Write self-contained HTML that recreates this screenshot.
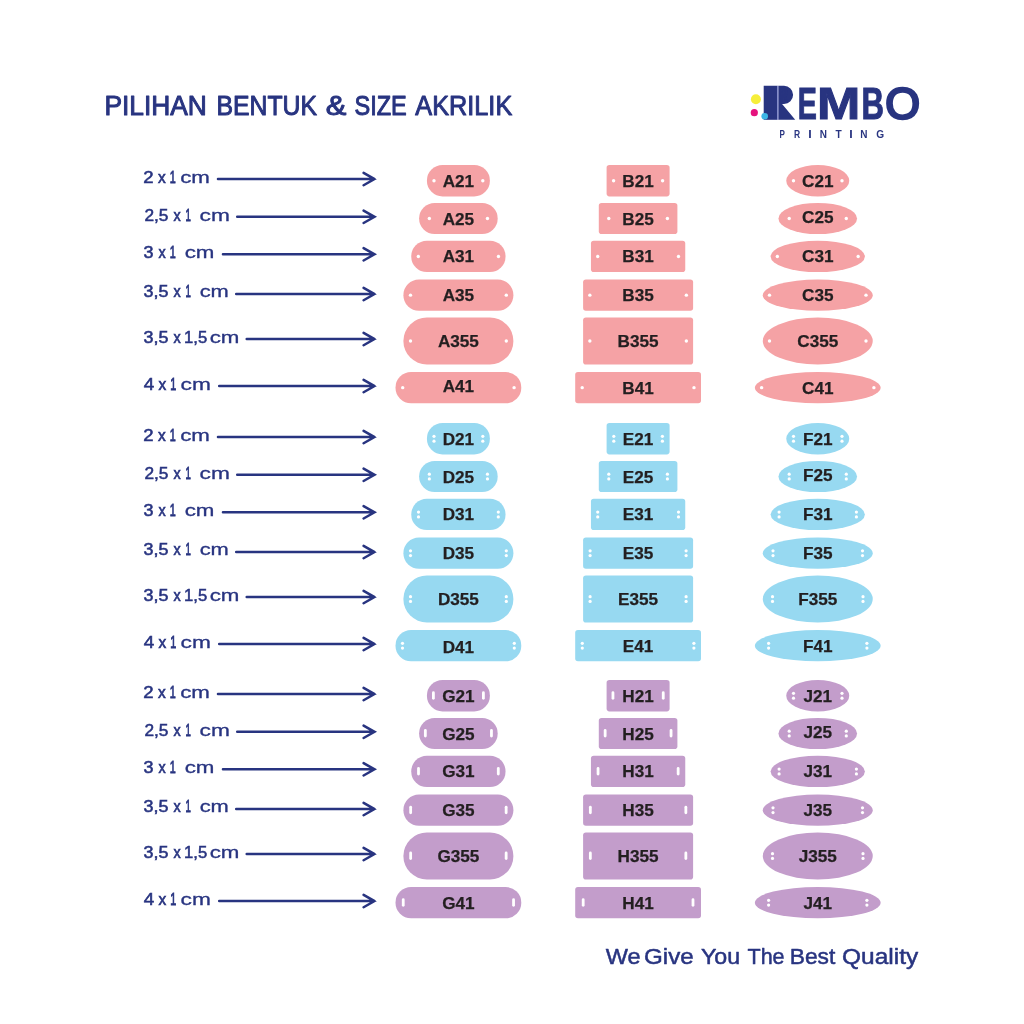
<!DOCTYPE html>
<html lang="id"><head><meta charset="utf-8"><title>Pilihan Bentuk &amp; Size Akrilik - Rembo Printing</title>
<style>
html,body{margin:0;padding:0;background:#fff;}
body{width:1024px;height:1024px;overflow:hidden;font-family:"Liberation Sans",sans-serif;}
svg{display:block;will-change:transform;}
svg text{font-family:"Liberation Sans",sans-serif;}
.code{font-weight:bold;font-size:17.15px;fill:#231f20;stroke:#231f20;stroke-width:0.25px;text-anchor:middle;}
.lbl{fill:#283480;stroke:#283480;stroke-width:0.55px;}
.arr{stroke:#283480;stroke-width:2.5;fill:none;stroke-linecap:round;stroke-linejoin:miter;}
.hole{fill:#fff;}
</style></head><body>
<svg width="1024" height="1024" viewBox="0 0 1024 1024">
<rect width="1024" height="1024" fill="#fff"/>
<g fill="#283480">
<circle cx="755.9" cy="99.25" r="5" fill="#f6ee3a"/>
<circle cx="754.3" cy="112.7" r="3.6" fill="#e5127d"/>
<rect x="763.7" y="85.75" width="13.6" height="34.05"/>
<rect x="777.1" y="85.75" width="1.5" height="34.05" fill="#7f88c9"/>
<path d="M778.5 85.75H784A9.1 9.1 0 0 1 784 103.95H782.1L795.2 119.8H778.5Z"/>
<text font-size="45.2" font-weight="bold" stroke="#283480" stroke-width="1.0"><tspan y="102" x="780.08" font-size="20.3" textLength="7.96" lengthAdjust="spacingAndGlyphs">R</tspan><tspan y="119.25" x="797.64" textLength="19.13" lengthAdjust="spacingAndGlyphs">E</tspan><tspan x="817.12" textLength="43.32" lengthAdjust="spacingAndGlyphs">M</tspan><tspan x="861.48" textLength="22.49" lengthAdjust="spacingAndGlyphs">B</tspan><tspan x="885.34" y="119.2" font-size="45.0" font-weight="normal" stroke-width="2.5" textLength="34.80" lengthAdjust="spacingAndGlyphs">O</tspan></text>
<circle cx="764.7" cy="116.2" r="3.3" fill="#3db5e6"/>
<text y="137.5" font-size="10.9" font-weight="bold"><tspan x="779.48" textLength="5.38" lengthAdjust="spacingAndGlyphs">P</tspan><tspan x="794.05" textLength="6.14" lengthAdjust="spacingAndGlyphs">R</tspan><tspan x="808.19" textLength="3.45" lengthAdjust="spacingAndGlyphs">I</tspan><tspan x="819.75" textLength="7.22" lengthAdjust="spacingAndGlyphs">N</tspan><tspan x="835.50" textLength="6.21" lengthAdjust="spacingAndGlyphs">T</tspan><tspan x="849.19" textLength="3.45" lengthAdjust="spacingAndGlyphs">I</tspan><tspan x="860.15" textLength="7.22" lengthAdjust="spacingAndGlyphs">N</tspan><tspan x="876.34" textLength="7.89" lengthAdjust="spacingAndGlyphs">G</tspan></text>
</g>

<text y="115.1" font-size="27.6" fill="#283480" stroke="#283480" stroke-width="1.0" stroke-linejoin="round"><tspan x="104.39" textLength="102.47" lengthAdjust="spacingAndGlyphs">PILIHAN</tspan> <tspan x="216.52" textLength="100.51" lengthAdjust="spacingAndGlyphs">BENTUK</tspan> <tspan x="325.67" textLength="20.61" lengthAdjust="spacingAndGlyphs">&amp;</tspan> <tspan x="354.44" textLength="52.31" lengthAdjust="spacingAndGlyphs">SIZE</tspan> <tspan x="415.37" textLength="96.88" lengthAdjust="spacingAndGlyphs">AKRILIK</tspan></text>

<g fill="#f5a2a5">
<text class="lbl" y="183.00"><tspan stroke-width="0.55" x="143.35" font-size="17.0" textLength="10.33" lengthAdjust="spacingAndGlyphs">2</tspan> <tspan stroke-width="0.65" x="158.09" font-size="16.4" textLength="7.74" lengthAdjust="spacingAndGlyphs">x</tspan> <tspan stroke-width="0.85" x="169.81" font-size="17.0" textLength="6.01" lengthAdjust="spacingAndGlyphs">1</tspan> <tspan stroke-width="0.3" x="180.15" font-size="16.4" textLength="29.72" lengthAdjust="spacingAndGlyphs">cm</tspan></text>
<path class="arr" d="M217.95 179.05H374.5M363.6 172.85L374.5 179.05L363.6 185.25"/>
<text class="lbl" y="220.50"><tspan stroke-width="0.55" x="144.41" font-size="17.0" textLength="24.01" lengthAdjust="spacingAndGlyphs">2,5</tspan> <tspan stroke-width="0.65" x="173.61" font-size="16.4" textLength="7.21" lengthAdjust="spacingAndGlyphs">x</tspan> <tspan stroke-width="0.85" x="185.40" font-size="17.0" textLength="5.37" lengthAdjust="spacingAndGlyphs">1</tspan> <tspan stroke-width="0.3" x="199.63" font-size="16.4" textLength="30.27" lengthAdjust="spacingAndGlyphs">cm</tspan></text>
<path class="arr" d="M237.20 216.80H374.5M363.6 210.60L374.5 216.80L363.6 223.00"/>
<text class="lbl" y="258.25"><tspan stroke-width="0.55" x="143.56" font-size="17.0" textLength="10.00" lengthAdjust="spacingAndGlyphs">3</tspan> <tspan stroke-width="0.65" x="158.61" font-size="16.4" textLength="7.21" lengthAdjust="spacingAndGlyphs">x</tspan> <tspan stroke-width="0.85" x="169.81" font-size="17.0" textLength="6.01" lengthAdjust="spacingAndGlyphs">1</tspan> <tspan stroke-width="0.3" x="184.65" font-size="16.4" textLength="29.72" lengthAdjust="spacingAndGlyphs">cm</tspan></text>
<path class="arr" d="M222.95 254.30H374.5M363.6 248.10L374.5 254.30L363.6 260.50"/>
<text class="lbl" y="297.00"><tspan stroke-width="0.55" x="143.56" font-size="17.0" textLength="24.88" lengthAdjust="spacingAndGlyphs">3,5</tspan> <tspan stroke-width="0.65" x="173.61" font-size="16.4" textLength="7.21" lengthAdjust="spacingAndGlyphs">x</tspan> <tspan stroke-width="0.85" x="185.40" font-size="17.0" textLength="5.37" lengthAdjust="spacingAndGlyphs">1</tspan> <tspan stroke-width="0.3" x="199.67" font-size="16.4" textLength="29.17" lengthAdjust="spacingAndGlyphs">cm</tspan></text>
<path class="arr" d="M236.20 294.05H374.5M363.6 287.85L374.5 294.05L363.6 300.25"/>
<text class="lbl" y="343.00"><tspan stroke-width="0.55" x="143.56" font-size="17.0" textLength="24.88" lengthAdjust="spacingAndGlyphs">3,5</tspan> <tspan stroke-width="0.65" x="173.61" font-size="16.4" textLength="7.21" lengthAdjust="spacingAndGlyphs">x</tspan> <tspan stroke-width="0.55" x="184.03" font-size="17.0" textLength="23.11" lengthAdjust="spacingAndGlyphs">1,5</tspan> <tspan stroke-width="0.3" x="209.65" font-size="16.4" textLength="29.72" lengthAdjust="spacingAndGlyphs">cm</tspan></text>
<path class="arr" d="M246.70 339.05H374.5M363.6 332.85L374.5 339.05L363.6 345.25"/>
<text class="lbl" y="389.50"><tspan stroke-width="0.55" x="143.80" font-size="17.0" textLength="10.51" lengthAdjust="spacingAndGlyphs">4</tspan> <tspan stroke-width="0.65" x="158.59" font-size="16.4" textLength="7.74" lengthAdjust="spacingAndGlyphs">x</tspan> <tspan stroke-width="0.85" x="170.31" font-size="17.0" textLength="6.01" lengthAdjust="spacingAndGlyphs">1</tspan> <tspan stroke-width="0.3" x="180.63" font-size="16.4" textLength="30.27" lengthAdjust="spacingAndGlyphs">cm</tspan></text>
<path class="arr" d="M219.20 386.05H374.5M363.6 379.85L374.5 386.05L363.6 392.25"/>
<rect x="426.90" y="165.00" width="63.00" height="31.40" rx="15.70"/>
<circle class="hole" cx="434.00" cy="180.70" r="1.7"/><circle class="hole" cx="482.80" cy="180.70" r="1.7"/>
<text class="code" x="458.40" y="187.00">A21</text>
<rect x="419.10" y="202.90" width="78.60" height="31.20" rx="15.60"/>
<circle class="hole" cx="429.35" cy="218.50" r="1.7"/><circle class="hole" cx="487.45" cy="218.50" r="1.7"/>
<text class="code" x="458.40" y="224.80">A25</text>
<rect x="411.25" y="240.75" width="94.30" height="31.35" rx="15.68"/>
<circle class="hole" cx="418.35" cy="256.43" r="1.7"/><circle class="hole" cx="498.45" cy="256.43" r="1.7"/>
<text class="code" x="458.40" y="261.93">A31</text>
<rect x="403.40" y="279.50" width="110.00" height="31.30" rx="15.65"/>
<circle class="hole" cx="410.50" cy="295.15" r="1.7"/><circle class="hole" cx="506.30" cy="295.15" r="1.7"/>
<text class="code" x="458.40" y="301.45">A35</text>
<rect x="403.40" y="317.50" width="110.00" height="47.00" rx="23.50"/>
<circle class="hole" cx="410.50" cy="341.00" r="1.7"/><circle class="hole" cx="506.30" cy="341.00" r="1.7"/>
<text class="code" x="458.40" y="347.30">A355</text>
<rect x="395.50" y="372.00" width="125.80" height="31.30" rx="15.65"/>
<circle class="hole" cx="402.70" cy="387.65" r="1.7"/><circle class="hole" cx="514.10" cy="387.65" r="1.7"/>
<text class="code" x="458.40" y="392.05">A41</text>
<rect x="606.60" y="165.00" width="63.00" height="31.40" rx="2.8"/>
<circle class="hole" cx="613.60" cy="180.70" r="1.7"/><circle class="hole" cx="662.60" cy="180.70" r="1.7"/>
<text class="code" x="638.10" y="187.00">B21</text>
<rect x="598.80" y="202.90" width="78.60" height="31.20" rx="2.8"/>
<circle class="hole" cx="608.80" cy="218.50" r="1.7"/><circle class="hole" cx="667.40" cy="218.50" r="1.7"/>
<text class="code" x="638.10" y="224.80">B25</text>
<rect x="590.95" y="240.75" width="94.30" height="31.35" rx="2.8"/>
<circle class="hole" cx="597.70" cy="256.43" r="1.7"/><circle class="hole" cx="678.50" cy="256.43" r="1.7"/>
<text class="code" x="638.10" y="261.93">B31</text>
<rect x="583.10" y="279.50" width="110.00" height="31.30" rx="2.8"/>
<circle class="hole" cx="589.85" cy="295.15" r="1.7"/><circle class="hole" cx="686.35" cy="295.15" r="1.7"/>
<text class="code" x="638.10" y="301.45">B35</text>
<rect x="583.10" y="317.50" width="110.00" height="47.00" rx="2.8"/>
<circle class="hole" cx="589.85" cy="341.00" r="1.7"/><circle class="hole" cx="686.35" cy="341.00" r="1.7"/>
<text class="code" x="638.10" y="347.30">B355</text>
<rect x="575.20" y="372.00" width="125.80" height="31.30" rx="2.8"/>
<circle class="hole" cx="582.20" cy="387.65" r="1.7"/><circle class="hole" cx="694.00" cy="387.65" r="1.7"/>
<text class="code" x="638.10" y="393.95">B41</text>
<ellipse cx="817.75" cy="180.70" rx="31.50" ry="15.70"/>
<circle class="hole" cx="793.50" cy="180.70" r="1.7"/><circle class="hole" cx="842.00" cy="180.70" r="1.7"/>
<text class="code" x="817.75" y="187.00">C21</text>
<ellipse cx="817.75" cy="218.50" rx="39.30" ry="15.60"/>
<circle class="hole" cx="789.20" cy="218.50" r="1.7"/><circle class="hole" cx="846.30" cy="218.50" r="1.7"/>
<text class="code" x="817.75" y="222.80">C25</text>
<ellipse cx="817.75" cy="256.43" rx="47.15" ry="15.68"/>
<circle class="hole" cx="777.35" cy="256.43" r="1.7"/><circle class="hole" cx="858.15" cy="256.43" r="1.7"/>
<text class="code" x="817.75" y="261.93">C31</text>
<ellipse cx="817.75" cy="295.15" rx="55.00" ry="15.65"/>
<circle class="hole" cx="769.50" cy="295.15" r="1.7"/><circle class="hole" cx="866.00" cy="295.15" r="1.7"/>
<text class="code" x="817.75" y="301.45">C35</text>
<ellipse cx="817.75" cy="341.00" rx="55.00" ry="23.50"/>
<circle class="hole" cx="769.50" cy="341.00" r="1.7"/><circle class="hole" cx="866.00" cy="341.00" r="1.7"/>
<text class="code" x="817.75" y="347.30">C355</text>
<ellipse cx="817.75" cy="387.65" rx="62.90" ry="15.65"/>
<circle class="hole" cx="761.60" cy="387.65" r="1.7"/><circle class="hole" cx="873.90" cy="387.65" r="1.7"/>
<text class="code" x="817.75" y="393.95">C41</text>
</g>
<g fill="#97d9f1">
<text class="lbl" y="441.00"><tspan stroke-width="0.55" x="143.35" font-size="17.0" textLength="10.33" lengthAdjust="spacingAndGlyphs">2</tspan> <tspan stroke-width="0.65" x="158.09" font-size="16.4" textLength="7.74" lengthAdjust="spacingAndGlyphs">x</tspan> <tspan stroke-width="0.85" x="169.81" font-size="17.0" textLength="6.01" lengthAdjust="spacingAndGlyphs">1</tspan> <tspan stroke-width="0.3" x="180.15" font-size="16.4" textLength="29.72" lengthAdjust="spacingAndGlyphs">cm</tspan></text>
<path class="arr" d="M217.95 437.05H374.5M363.6 430.85L374.5 437.05L363.6 443.25"/>
<text class="lbl" y="478.50"><tspan stroke-width="0.55" x="144.41" font-size="17.0" textLength="24.01" lengthAdjust="spacingAndGlyphs">2,5</tspan> <tspan stroke-width="0.65" x="173.61" font-size="16.4" textLength="7.21" lengthAdjust="spacingAndGlyphs">x</tspan> <tspan stroke-width="0.85" x="185.40" font-size="17.0" textLength="5.37" lengthAdjust="spacingAndGlyphs">1</tspan> <tspan stroke-width="0.3" x="199.63" font-size="16.4" textLength="30.27" lengthAdjust="spacingAndGlyphs">cm</tspan></text>
<path class="arr" d="M237.20 474.80H374.5M363.6 468.60L374.5 474.80L363.6 481.00"/>
<text class="lbl" y="516.25"><tspan stroke-width="0.55" x="143.56" font-size="17.0" textLength="10.00" lengthAdjust="spacingAndGlyphs">3</tspan> <tspan stroke-width="0.65" x="158.61" font-size="16.4" textLength="7.21" lengthAdjust="spacingAndGlyphs">x</tspan> <tspan stroke-width="0.85" x="169.81" font-size="17.0" textLength="6.01" lengthAdjust="spacingAndGlyphs">1</tspan> <tspan stroke-width="0.3" x="184.65" font-size="16.4" textLength="29.72" lengthAdjust="spacingAndGlyphs">cm</tspan></text>
<path class="arr" d="M222.95 512.30H374.5M363.6 506.10L374.5 512.30L363.6 518.50"/>
<text class="lbl" y="555.00"><tspan stroke-width="0.55" x="143.56" font-size="17.0" textLength="24.88" lengthAdjust="spacingAndGlyphs">3,5</tspan> <tspan stroke-width="0.65" x="173.61" font-size="16.4" textLength="7.21" lengthAdjust="spacingAndGlyphs">x</tspan> <tspan stroke-width="0.85" x="185.40" font-size="17.0" textLength="5.37" lengthAdjust="spacingAndGlyphs">1</tspan> <tspan stroke-width="0.3" x="199.67" font-size="16.4" textLength="29.17" lengthAdjust="spacingAndGlyphs">cm</tspan></text>
<path class="arr" d="M236.20 552.05H374.5M363.6 545.85L374.5 552.05L363.6 558.25"/>
<text class="lbl" y="601.00"><tspan stroke-width="0.55" x="143.56" font-size="17.0" textLength="24.88" lengthAdjust="spacingAndGlyphs">3,5</tspan> <tspan stroke-width="0.65" x="173.61" font-size="16.4" textLength="7.21" lengthAdjust="spacingAndGlyphs">x</tspan> <tspan stroke-width="0.55" x="184.03" font-size="17.0" textLength="23.11" lengthAdjust="spacingAndGlyphs">1,5</tspan> <tspan stroke-width="0.3" x="209.65" font-size="16.4" textLength="29.72" lengthAdjust="spacingAndGlyphs">cm</tspan></text>
<path class="arr" d="M246.70 597.05H374.5M363.6 590.85L374.5 597.05L363.6 603.25"/>
<text class="lbl" y="647.50"><tspan stroke-width="0.55" x="143.80" font-size="17.0" textLength="10.51" lengthAdjust="spacingAndGlyphs">4</tspan> <tspan stroke-width="0.65" x="158.59" font-size="16.4" textLength="7.74" lengthAdjust="spacingAndGlyphs">x</tspan> <tspan stroke-width="0.85" x="170.31" font-size="17.0" textLength="6.01" lengthAdjust="spacingAndGlyphs">1</tspan> <tspan stroke-width="0.3" x="180.63" font-size="16.4" textLength="30.27" lengthAdjust="spacingAndGlyphs">cm</tspan></text>
<path class="arr" d="M219.20 644.05H374.5M363.6 637.85L374.5 644.05L363.6 650.25"/>
<rect x="426.90" y="423.00" width="63.00" height="31.40" rx="15.70"/>
<circle class="hole" cx="434.00" cy="436.35" r="1.6"/><circle class="hole" cx="434.00" cy="441.15" r="1.6"/><circle class="hole" cx="482.80" cy="436.35" r="1.6"/><circle class="hole" cx="482.80" cy="441.15" r="1.6"/>
<text class="code" x="458.40" y="445.00">D21</text>
<rect x="419.10" y="460.90" width="78.60" height="31.20" rx="15.60"/>
<circle class="hole" cx="429.35" cy="474.15" r="1.6"/><circle class="hole" cx="429.35" cy="478.95" r="1.6"/><circle class="hole" cx="487.45" cy="474.15" r="1.6"/><circle class="hole" cx="487.45" cy="478.95" r="1.6"/>
<text class="code" x="458.40" y="482.80">D25</text>
<rect x="411.25" y="498.75" width="94.30" height="31.35" rx="15.68"/>
<circle class="hole" cx="418.50" cy="512.07" r="1.6"/><circle class="hole" cx="418.50" cy="516.88" r="1.6"/><circle class="hole" cx="498.30" cy="512.07" r="1.6"/><circle class="hole" cx="498.30" cy="516.88" r="1.6"/>
<text class="code" x="458.40" y="519.92">D31</text>
<rect x="403.40" y="537.50" width="110.00" height="31.30" rx="15.65"/>
<circle class="hole" cx="410.50" cy="550.80" r="1.6"/><circle class="hole" cx="410.50" cy="555.60" r="1.6"/><circle class="hole" cx="506.30" cy="550.80" r="1.6"/><circle class="hole" cx="506.30" cy="555.60" r="1.6"/>
<text class="code" x="458.40" y="559.45">D35</text>
<rect x="403.40" y="575.50" width="110.00" height="47.00" rx="23.50"/>
<circle class="hole" cx="410.50" cy="596.65" r="1.6"/><circle class="hole" cx="410.50" cy="601.45" r="1.6"/><circle class="hole" cx="506.30" cy="596.65" r="1.6"/><circle class="hole" cx="506.30" cy="601.45" r="1.6"/>
<text class="code" x="458.40" y="605.30">D355</text>
<rect x="395.50" y="630.00" width="125.80" height="31.30" rx="15.65"/>
<circle class="hole" cx="402.50" cy="643.30" r="1.6"/><circle class="hole" cx="402.50" cy="648.10" r="1.6"/><circle class="hole" cx="514.30" cy="643.30" r="1.6"/><circle class="hole" cx="514.30" cy="648.10" r="1.6"/>
<text class="code" x="458.40" y="652.55">D41</text>
<rect x="606.60" y="423.00" width="63.00" height="31.40" rx="2.8"/>
<circle class="hole" cx="613.80" cy="436.35" r="1.6"/><circle class="hole" cx="613.80" cy="441.15" r="1.6"/><circle class="hole" cx="662.40" cy="436.35" r="1.6"/><circle class="hole" cx="662.40" cy="441.15" r="1.6"/>
<text class="code" x="638.10" y="445.00">E21</text>
<rect x="598.80" y="460.90" width="78.60" height="31.20" rx="2.8"/>
<circle class="hole" cx="608.80" cy="474.15" r="1.6"/><circle class="hole" cx="608.80" cy="478.95" r="1.6"/><circle class="hole" cx="667.40" cy="474.15" r="1.6"/><circle class="hole" cx="667.40" cy="478.95" r="1.6"/>
<text class="code" x="638.10" y="482.80">E25</text>
<rect x="590.95" y="498.75" width="94.30" height="31.35" rx="2.8"/>
<circle class="hole" cx="597.70" cy="512.07" r="1.6"/><circle class="hole" cx="597.70" cy="516.88" r="1.6"/><circle class="hole" cx="678.50" cy="512.07" r="1.6"/><circle class="hole" cx="678.50" cy="516.88" r="1.6"/>
<text class="code" x="638.10" y="519.92">E31</text>
<rect x="583.10" y="537.50" width="110.00" height="31.30" rx="2.8"/>
<circle class="hole" cx="590.10" cy="550.80" r="1.6"/><circle class="hole" cx="590.10" cy="555.60" r="1.6"/><circle class="hole" cx="686.10" cy="550.80" r="1.6"/><circle class="hole" cx="686.10" cy="555.60" r="1.6"/>
<text class="code" x="638.10" y="559.45">E35</text>
<rect x="583.10" y="575.50" width="110.00" height="47.00" rx="2.8"/>
<circle class="hole" cx="590.10" cy="596.65" r="1.6"/><circle class="hole" cx="590.10" cy="601.45" r="1.6"/><circle class="hole" cx="686.10" cy="596.65" r="1.6"/><circle class="hole" cx="686.10" cy="601.45" r="1.6"/>
<text class="code" x="638.10" y="605.30">E355</text>
<rect x="575.20" y="630.00" width="125.80" height="31.30" rx="2.8"/>
<circle class="hole" cx="582.30" cy="643.30" r="1.6"/><circle class="hole" cx="582.30" cy="648.10" r="1.6"/><circle class="hole" cx="693.90" cy="643.30" r="1.6"/><circle class="hole" cx="693.90" cy="648.10" r="1.6"/>
<text class="code" x="638.10" y="651.95">E41</text>
<ellipse cx="817.75" cy="438.70" rx="31.50" ry="15.70"/>
<circle class="hole" cx="793.50" cy="436.35" r="1.6"/><circle class="hole" cx="793.50" cy="441.15" r="1.6"/><circle class="hole" cx="842.00" cy="436.35" r="1.6"/><circle class="hole" cx="842.00" cy="441.15" r="1.6"/>
<text class="code" x="817.75" y="445.00">F21</text>
<ellipse cx="817.75" cy="476.50" rx="39.30" ry="15.60"/>
<circle class="hole" cx="789.20" cy="474.15" r="1.6"/><circle class="hole" cx="789.20" cy="478.95" r="1.6"/><circle class="hole" cx="846.30" cy="474.15" r="1.6"/><circle class="hole" cx="846.30" cy="478.95" r="1.6"/>
<text class="code" x="817.75" y="480.80">F25</text>
<ellipse cx="817.75" cy="514.42" rx="47.15" ry="15.68"/>
<circle class="hole" cx="779.10" cy="512.07" r="1.6"/><circle class="hole" cx="779.10" cy="516.88" r="1.6"/><circle class="hole" cx="856.40" cy="512.07" r="1.6"/><circle class="hole" cx="856.40" cy="516.88" r="1.6"/>
<text class="code" x="817.75" y="519.92">F31</text>
<ellipse cx="817.75" cy="553.15" rx="55.00" ry="15.65"/>
<circle class="hole" cx="773.00" cy="550.80" r="1.6"/><circle class="hole" cx="773.00" cy="555.60" r="1.6"/><circle class="hole" cx="862.50" cy="550.80" r="1.6"/><circle class="hole" cx="862.50" cy="555.60" r="1.6"/>
<text class="code" x="817.75" y="559.45">F35</text>
<ellipse cx="817.75" cy="599.00" rx="55.00" ry="23.50"/>
<circle class="hole" cx="772.50" cy="596.65" r="1.6"/><circle class="hole" cx="772.50" cy="601.45" r="1.6"/><circle class="hole" cx="863.00" cy="596.65" r="1.6"/><circle class="hole" cx="863.00" cy="601.45" r="1.6"/>
<text class="code" x="817.75" y="605.30">F355</text>
<ellipse cx="817.75" cy="645.65" rx="62.90" ry="15.65"/>
<circle class="hole" cx="768.60" cy="643.30" r="1.6"/><circle class="hole" cx="768.60" cy="648.10" r="1.6"/><circle class="hole" cx="866.90" cy="643.30" r="1.6"/><circle class="hole" cx="866.90" cy="648.10" r="1.6"/>
<text class="code" x="817.75" y="651.95">F41</text>
</g>
<g fill="#c39dcb">
<text class="lbl" y="698.00"><tspan stroke-width="0.55" x="143.35" font-size="17.0" textLength="10.33" lengthAdjust="spacingAndGlyphs">2</tspan> <tspan stroke-width="0.65" x="158.09" font-size="16.4" textLength="7.74" lengthAdjust="spacingAndGlyphs">x</tspan> <tspan stroke-width="0.85" x="169.81" font-size="17.0" textLength="6.01" lengthAdjust="spacingAndGlyphs">1</tspan> <tspan stroke-width="0.3" x="180.15" font-size="16.4" textLength="29.72" lengthAdjust="spacingAndGlyphs">cm</tspan></text>
<path class="arr" d="M217.95 694.05H374.5M363.6 687.85L374.5 694.05L363.6 700.25"/>
<text class="lbl" y="735.50"><tspan stroke-width="0.55" x="144.41" font-size="17.0" textLength="24.01" lengthAdjust="spacingAndGlyphs">2,5</tspan> <tspan stroke-width="0.65" x="173.61" font-size="16.4" textLength="7.21" lengthAdjust="spacingAndGlyphs">x</tspan> <tspan stroke-width="0.85" x="185.40" font-size="17.0" textLength="5.37" lengthAdjust="spacingAndGlyphs">1</tspan> <tspan stroke-width="0.3" x="199.63" font-size="16.4" textLength="30.27" lengthAdjust="spacingAndGlyphs">cm</tspan></text>
<path class="arr" d="M237.20 731.80H374.5M363.6 725.60L374.5 731.80L363.6 738.00"/>
<text class="lbl" y="773.25"><tspan stroke-width="0.55" x="143.56" font-size="17.0" textLength="10.00" lengthAdjust="spacingAndGlyphs">3</tspan> <tspan stroke-width="0.65" x="158.61" font-size="16.4" textLength="7.21" lengthAdjust="spacingAndGlyphs">x</tspan> <tspan stroke-width="0.85" x="169.81" font-size="17.0" textLength="6.01" lengthAdjust="spacingAndGlyphs">1</tspan> <tspan stroke-width="0.3" x="184.65" font-size="16.4" textLength="29.72" lengthAdjust="spacingAndGlyphs">cm</tspan></text>
<path class="arr" d="M222.95 769.30H374.5M363.6 763.10L374.5 769.30L363.6 775.50"/>
<text class="lbl" y="812.00"><tspan stroke-width="0.55" x="143.56" font-size="17.0" textLength="24.88" lengthAdjust="spacingAndGlyphs">3,5</tspan> <tspan stroke-width="0.65" x="173.61" font-size="16.4" textLength="7.21" lengthAdjust="spacingAndGlyphs">x</tspan> <tspan stroke-width="0.85" x="185.40" font-size="17.0" textLength="5.37" lengthAdjust="spacingAndGlyphs">1</tspan> <tspan stroke-width="0.3" x="199.67" font-size="16.4" textLength="29.17" lengthAdjust="spacingAndGlyphs">cm</tspan></text>
<path class="arr" d="M236.20 809.05H374.5M363.6 802.85L374.5 809.05L363.6 815.25"/>
<text class="lbl" y="858.00"><tspan stroke-width="0.55" x="143.56" font-size="17.0" textLength="24.88" lengthAdjust="spacingAndGlyphs">3,5</tspan> <tspan stroke-width="0.65" x="173.61" font-size="16.4" textLength="7.21" lengthAdjust="spacingAndGlyphs">x</tspan> <tspan stroke-width="0.55" x="184.03" font-size="17.0" textLength="23.11" lengthAdjust="spacingAndGlyphs">1,5</tspan> <tspan stroke-width="0.3" x="209.65" font-size="16.4" textLength="29.72" lengthAdjust="spacingAndGlyphs">cm</tspan></text>
<path class="arr" d="M246.70 854.05H374.5M363.6 847.85L374.5 854.05L363.6 860.25"/>
<text class="lbl" y="904.50"><tspan stroke-width="0.55" x="143.80" font-size="17.0" textLength="10.51" lengthAdjust="spacingAndGlyphs">4</tspan> <tspan stroke-width="0.65" x="158.59" font-size="16.4" textLength="7.74" lengthAdjust="spacingAndGlyphs">x</tspan> <tspan stroke-width="0.85" x="170.31" font-size="17.0" textLength="6.01" lengthAdjust="spacingAndGlyphs">1</tspan> <tspan stroke-width="0.3" x="180.63" font-size="16.4" textLength="30.27" lengthAdjust="spacingAndGlyphs">cm</tspan></text>
<path class="arr" d="M219.20 901.05H374.5M363.6 894.85L374.5 901.05L363.6 907.25"/>
<rect x="426.90" y="680.00" width="63.00" height="31.40" rx="15.70"/>
<rect class="hole" x="432.00" y="691.30" width="2.8" height="8.4" rx="1.4"/><rect class="hole" x="482.00" y="691.30" width="2.8" height="8.4" rx="1.4"/>
<text class="code" x="458.40" y="702.00">G21</text>
<rect x="419.10" y="717.90" width="78.60" height="31.20" rx="15.60"/>
<rect class="hole" x="423.95" y="729.10" width="2.8" height="8.4" rx="1.4"/><rect class="hole" x="490.05" y="729.10" width="2.8" height="8.4" rx="1.4"/>
<text class="code" x="458.40" y="739.80">G25</text>
<rect x="411.25" y="755.75" width="94.30" height="31.35" rx="15.68"/>
<rect class="hole" x="417.10" y="767.02" width="2.8" height="8.4" rx="1.4"/><rect class="hole" x="496.90" y="767.02" width="2.8" height="8.4" rx="1.4"/>
<text class="code" x="458.40" y="776.92">G31</text>
<rect x="403.40" y="794.50" width="110.00" height="31.30" rx="15.65"/>
<rect class="hole" x="409.25" y="805.75" width="2.8" height="8.4" rx="1.4"/><rect class="hole" x="504.75" y="805.75" width="2.8" height="8.4" rx="1.4"/>
<text class="code" x="458.40" y="816.45">G35</text>
<rect x="403.40" y="832.50" width="110.00" height="47.00" rx="23.50"/>
<rect class="hole" x="409.25" y="851.60" width="2.8" height="8.4" rx="1.4"/><rect class="hole" x="504.75" y="851.60" width="2.8" height="8.4" rx="1.4"/>
<text class="code" x="458.40" y="862.30">G355</text>
<rect x="395.50" y="887.00" width="125.80" height="31.30" rx="15.65"/>
<rect class="hole" x="401.85" y="898.25" width="2.8" height="8.4" rx="1.4"/><rect class="hole" x="512.15" y="898.25" width="2.8" height="8.4" rx="1.4"/>
<text class="code" x="458.40" y="909.45">G41</text>
<rect x="606.60" y="680.00" width="63.00" height="31.40" rx="2.8"/>
<rect class="hole" x="611.55" y="691.30" width="2.8" height="8.4" rx="1.4"/><rect class="hole" x="661.85" y="691.30" width="2.8" height="8.4" rx="1.4"/>
<text class="code" x="638.10" y="702.00">H21</text>
<rect x="598.80" y="717.90" width="78.60" height="31.20" rx="2.8"/>
<rect class="hole" x="603.75" y="729.10" width="2.8" height="8.4" rx="1.4"/><rect class="hole" x="669.65" y="729.10" width="2.8" height="8.4" rx="1.4"/>
<text class="code" x="638.10" y="739.80">H25</text>
<rect x="590.95" y="755.75" width="94.30" height="31.35" rx="2.8"/>
<rect class="hole" x="596.65" y="767.02" width="2.8" height="8.4" rx="1.4"/><rect class="hole" x="676.75" y="767.02" width="2.8" height="8.4" rx="1.4"/>
<text class="code" x="638.10" y="776.92">H31</text>
<rect x="583.10" y="794.50" width="110.00" height="31.30" rx="2.8"/>
<rect class="hole" x="588.95" y="805.75" width="2.8" height="8.4" rx="1.4"/><rect class="hole" x="684.45" y="805.75" width="2.8" height="8.4" rx="1.4"/>
<text class="code" x="638.10" y="816.45">H35</text>
<rect x="583.10" y="832.50" width="110.00" height="47.00" rx="2.8"/>
<rect class="hole" x="588.95" y="851.60" width="2.8" height="8.4" rx="1.4"/><rect class="hole" x="684.45" y="851.60" width="2.8" height="8.4" rx="1.4"/>
<text class="code" x="638.10" y="862.30">H355</text>
<rect x="575.20" y="887.00" width="125.80" height="31.30" rx="2.8"/>
<rect class="hole" x="581.80" y="898.25" width="2.8" height="8.4" rx="1.4"/><rect class="hole" x="691.60" y="898.25" width="2.8" height="8.4" rx="1.4"/>
<text class="code" x="638.10" y="908.95">H41</text>
<ellipse cx="817.75" cy="695.70" rx="31.50" ry="15.70"/>
<circle class="hole" cx="793.50" cy="693.35" r="1.6"/><circle class="hole" cx="793.50" cy="698.15" r="1.6"/><circle class="hole" cx="842.00" cy="693.35" r="1.6"/><circle class="hole" cx="842.00" cy="698.15" r="1.6"/>
<text class="code" x="817.75" y="702.00">J21</text>
<ellipse cx="817.75" cy="733.50" rx="39.30" ry="15.60"/>
<circle class="hole" cx="789.20" cy="731.15" r="1.6"/><circle class="hole" cx="789.20" cy="735.95" r="1.6"/><circle class="hole" cx="846.30" cy="731.15" r="1.6"/><circle class="hole" cx="846.30" cy="735.95" r="1.6"/>
<text class="code" x="817.75" y="737.80">J25</text>
<ellipse cx="817.75" cy="771.42" rx="47.15" ry="15.68"/>
<circle class="hole" cx="779.10" cy="769.07" r="1.6"/><circle class="hole" cx="779.10" cy="773.88" r="1.6"/><circle class="hole" cx="856.40" cy="769.07" r="1.6"/><circle class="hole" cx="856.40" cy="773.88" r="1.6"/>
<text class="code" x="817.75" y="776.92">J31</text>
<ellipse cx="817.75" cy="810.15" rx="55.00" ry="15.65"/>
<circle class="hole" cx="773.00" cy="807.80" r="1.6"/><circle class="hole" cx="773.00" cy="812.60" r="1.6"/><circle class="hole" cx="862.50" cy="807.80" r="1.6"/><circle class="hole" cx="862.50" cy="812.60" r="1.6"/>
<text class="code" x="817.75" y="816.45">J35</text>
<ellipse cx="817.75" cy="856.00" rx="55.00" ry="23.50"/>
<circle class="hole" cx="772.50" cy="853.65" r="1.6"/><circle class="hole" cx="772.50" cy="858.45" r="1.6"/><circle class="hole" cx="863.00" cy="853.65" r="1.6"/><circle class="hole" cx="863.00" cy="858.45" r="1.6"/>
<text class="code" x="817.75" y="862.30">J355</text>
<ellipse cx="817.75" cy="902.65" rx="62.90" ry="15.65"/>
<circle class="hole" cx="768.60" cy="900.30" r="1.6"/><circle class="hole" cx="768.60" cy="905.10" r="1.6"/><circle class="hole" cx="866.90" cy="900.30" r="1.6"/><circle class="hole" cx="866.90" cy="905.10" r="1.6"/>
<text class="code" x="817.75" y="908.95">J41</text>
</g>
<text y="963.6" font-size="22.0" fill="#283480" stroke="#283480" stroke-width="0.5" stroke-linejoin="round"><tspan x="605.73" textLength="34.87" lengthAdjust="spacingAndGlyphs">We</tspan> <tspan x="644.04" textLength="49.62" lengthAdjust="spacingAndGlyphs">Give</tspan> <tspan x="700.92" textLength="39.15" lengthAdjust="spacingAndGlyphs">You</tspan> <tspan x="747.52" textLength="37.07" lengthAdjust="spacingAndGlyphs">The</tspan> <tspan x="789.73" textLength="45.56" lengthAdjust="spacingAndGlyphs">Best</tspan> <tspan x="842.05" textLength="76.13" lengthAdjust="spacingAndGlyphs">Quality</tspan></text>

</svg></body></html>
